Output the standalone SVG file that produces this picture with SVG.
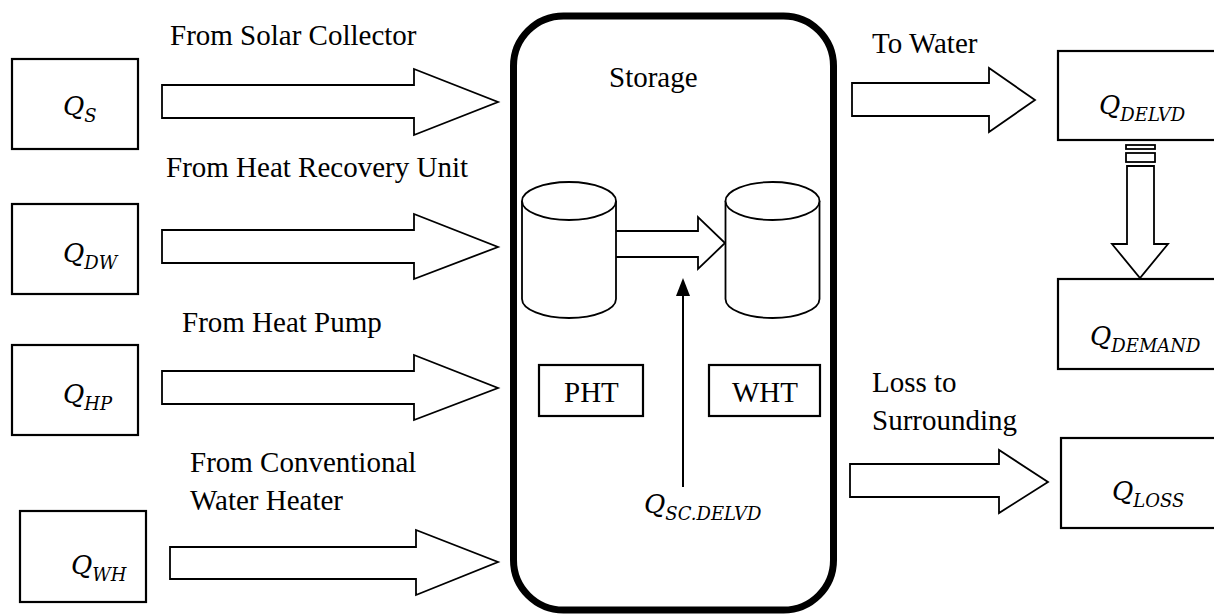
<svg xmlns="http://www.w3.org/2000/svg" width="1214" height="616" viewBox="0 0 1214 616">
<style>
.box{fill:#fff;stroke:#000;stroke-width:2.2}
.arr{fill:#fff;stroke:#000;stroke-width:1.8;stroke-linejoin:miter}
.lbl{font-family:"Liberation Serif","Times New Roman",serif;font-size:29px;fill:#000}
.math{font-family:"DejaVu Serif",serif;font-style:italic;font-size:26px;fill:#000}
.sub{font-size:18px}
.cyl{fill:#fff;stroke:#000;stroke-width:1.8}
</style>
<rect width="1214" height="616" fill="#fff"/>

<g id="storage">
  <rect x="513.5" y="16" width="320" height="594" rx="50" ry="50" fill="#fff" stroke="#000" stroke-width="7"/>
  <text class="lbl" x="609" y="87">Storage</text>
</g>

<g id="connectors">
  <polygon class="arr" points="162,85 414,85 414,69 498,102 414,135 414,118 162,118"/>
  <polygon class="arr" points="162,230 414,230 414,214 498,247 414,279 414,263 162,263"/>
  <polygon class="arr" points="162,371 414,371 414,355 498,388 414,420 414,404 162,404"/>
  <polygon class="arr" points="170,547 416,547 416,530 498,562 416,595 416,579 170,579"/>
  <polygon class="arr" points="852,83 989,83 989,68 1035,100 989,132 989,116 852,116"/>
  <polygon class="arr" points="850,464 999,464 999,450 1048,482 999,513 999,497 850,497"/>
  <rect class="arr" x="1126" y="145" width="29" height="4"/>
  <rect class="arr" x="1126" y="153" width="29" height="9"/>
  <polygon class="arr" points="1127,166 1154,166 1154,244 1168,244 1140,278 1112,244 1127,244"/>
  <polygon class="arr" points="612,231 698,231 698,217 725,243 698,269 698,257 612,257"/>
  <line x1="683" y1="487" x2="683" y2="293" stroke="#000" stroke-width="2"/>
  <polygon points="683,278 676,296 690,296" fill="#000"/>
</g>

<g id="pht-cylinder">
  <path class="cyl" d="M522 201 L522 299 A47 19 0 0 0 616 299 L616 201"/>
  <ellipse class="cyl" cx="569" cy="201" rx="47" ry="19"/>
</g>
<g id="wht-cylinder">
  <path class="cyl" d="M725.5 201 L725.5 299 A47 19 0 0 0 819.5 299 L819.5 201"/>
  <ellipse class="cyl" cx="772.5" cy="201" rx="47" ry="19"/>
</g>

<g id="pht">
  <rect class="box" x="539" y="365" width="104" height="51"/>
  <text class="lbl" x="564" y="402">PHT</text>
</g>
<g id="wht">
  <rect class="box" x="709" y="365" width="111" height="51"/>
  <text class="lbl" x="732" y="402">WHT</text>
</g>

<g id="q-sc-delvd">
  <text class="math" x="644" y="513">Q<tspan class="sub" dy="7">SC.DELVD</tspan></text>
</g>

<g id="label-solar"><text class="lbl" x="170" y="45">From Solar Collector</text></g>
<g id="label-hru"><text class="lbl" x="166" y="177">From Heat Recovery Unit</text></g>
<g id="label-hp"><text class="lbl" x="182" y="332">From Heat Pump</text></g>
<g id="label-wh"><text class="lbl" x="190" y="472">From Conventional</text><text class="lbl" x="190" y="510">Water Heater</text></g>
<g id="label-water"><text class="lbl" x="872" y="53">To Water</text></g>
<g id="label-loss"><text class="lbl" x="872" y="392">Loss to</text><text class="lbl" x="872" y="430">Surrounding</text></g>

<g id="q-s">
  <rect class="box" x="12" y="59" width="126" height="90"/>
  <text class="math" x="63" y="115">Q<tspan class="sub" dy="7">S</tspan></text>
</g>
<g id="q-dw">
  <rect class="box" x="12" y="204" width="126" height="90"/>
  <text class="math" x="63" y="262">Q<tspan class="sub" dy="7">DW</tspan></text>
</g>
<g id="q-hp">
  <rect class="box" x="12" y="345" width="126" height="90"/>
  <text class="math" x="63" y="403">Q<tspan class="sub" dy="7">HP</tspan></text>
</g>
<g id="q-wh">
  <rect class="box" x="20" y="511" width="126" height="91"/>
  <text class="math" x="71" y="574">Q<tspan class="sub" dy="7">WH</tspan></text>
</g>
<g id="q-delvd">
  <rect class="box" x="1058" y="51" width="170" height="89"/>
  <text class="math" x="1099" y="114">Q<tspan class="sub" dy="7">DELVD</tspan></text>
</g>
<g id="q-demand">
  <rect class="box" x="1058" y="279" width="170" height="90"/>
  <text class="math" x="1090" y="345">Q<tspan class="sub" dy="7">DEMAND</tspan></text>
</g>
<g id="q-loss">
  <rect class="box" x="1061" y="438" width="170" height="90"/>
  <text class="math" x="1112" y="500">Q<tspan class="sub" dy="7">LOSS</tspan></text>
</g>
</svg>
